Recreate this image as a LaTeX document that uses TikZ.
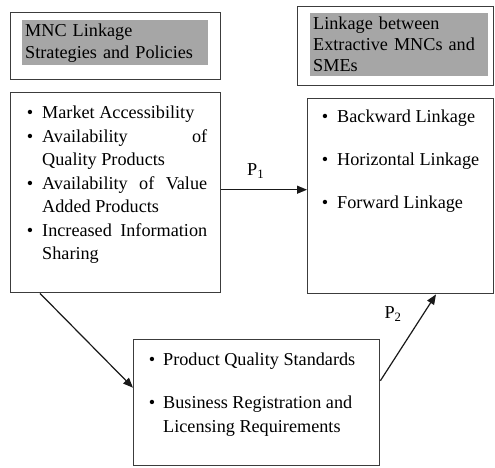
\documentclass[tikz,border=0pt]{standalone}
\usepackage{fontspec}
\setmainfont{Liberation Serif}
\usepackage{enumitem}
\usetikzlibrary{arrows.meta}
\definecolor{titlegray}{RGB}{166,166,166}
\definecolor{linegray}{RGB}{60,60,60}
\setlist[itemize]{label=\textbullet, nosep, leftmargin=15pt, labelsep=9pt}

\begin{document}
\begin{tikzpicture}[x=1pt,y=-1pt,
  frame/.style={draw=linegray,line width=1.4pt,anchor=north west,inner sep=0pt},
  shade/.style={fill=titlegray,anchor=north west,align=left,inner xsep=3pt,inner ysep=0pt},
  listtext/.style={anchor=north west,inner sep=0pt,align=justify,font=\fontsize{18.2}{23.5}\selectfont},
  link/.style={draw=black!90,line width=1.2pt,-{Triangle[length=10pt,width=8pt]}},
  plabel/.style={inner sep=2pt,font=\fontsize{18.2}{22}\selectfont}]
\useasboundingbox (0,0) rectangle (495,467);

% titles
\node[frame,minimum width=210pt,minimum height=67pt] (titleL) at (10,12) {};
\node[shade,minimum width=186pt,minimum height=45pt,text width=180pt,font=\fontsize{18.2}{22}\selectfont] (titleLtext) at (22,20) {MNC Linkage\\Strategies and Policies};
\node[frame,minimum width=196pt,minimum height=79pt] (titleR) at (297,6) {};
\node[shade,minimum width=178pt,minimum height=63pt,text width=172pt,font=\fontsize{18.2}{21}\selectfont] (titleRtext) at (310,13) {Linkage between\\Extractive MNCs and\\SMEs};

% boxes
\node[frame,minimum width=210pt,minimum height=200pt] (drivers) at (10,92) {};
\node[frame,minimum width=186pt,minimum height=195pt] (linkage) at (307,98) {};
\node[frame,minimum width=246pt,minimum height=126pt] (mediator) at (133,339) {};

% lists
\node[listtext,text width=180pt] (driverlist) at (27,95) {%
\begin{itemize}
\item Market Accessibility
\item Availability of\linebreak Quality Products
\item Availability of Value\linebreak Added Products
\item Increased Information\linebreak Sharing
\end{itemize}};
\node[listtext,text width=170pt] (linklist) at (322,99) {%
\begin{itemize}[itemsep=19.5pt]
\item Backward Linkage
\item Horizontal Linkage
\item Forward Linkage
\end{itemize}};
\node[listtext,text width=225pt] (medlist) at (149,342) {%
\begin{itemize}[itemsep=19.5pt,leftmargin=14pt,labelsep=8pt]
\item Product Quality Standards
\item Business Registration and\newline Licensing Requirements
\end{itemize}};

% connectors
\draw[link] ([yshift=3pt]drivers.east) -- node[plabel,above=9pt,pos=0.4] (p1) {P\textsubscript{1}} ([yshift=6.5pt]linkage.west);
\draw[link] ([xshift=30pt]drivers.south west) -- ([yshift=15pt]mediator.west);
\draw[link] ([yshift=22pt]mediator.east) -- node[plabel,left=19pt,pos=0.77] (p2) {P\textsubscript{2}} ([xshift=129pt]linkage.south west);
\end{tikzpicture}
\end{document}
